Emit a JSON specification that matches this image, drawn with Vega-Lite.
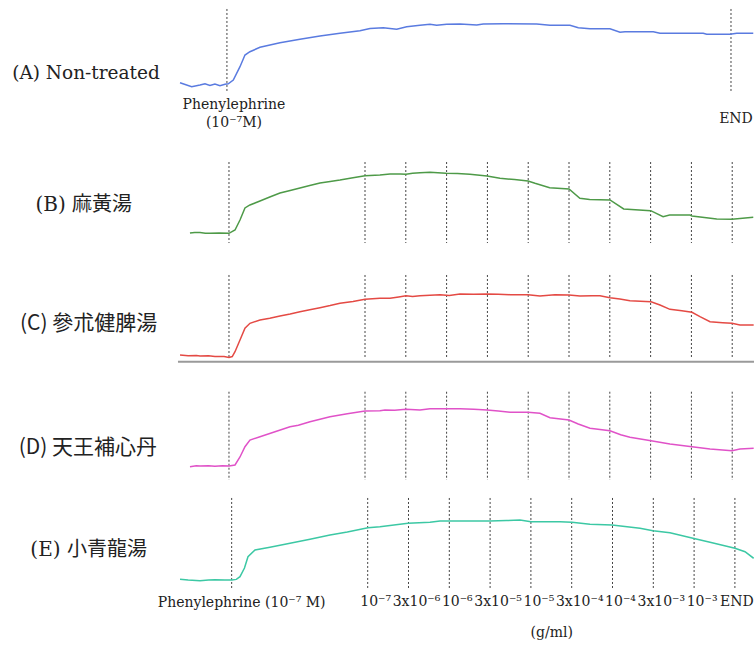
{
  "$schema": "https://vega.github.io/schema/vega-lite/v6.json",
  "padding": 0,
  "spacing": 0,
  "bounds": "flush",
  "background": "white",
  "config": {"view": {"stroke": null}, "concat": {"spacing": 0}},
  "datasets": {
    "traces": [
      {"p":"A","t":-6.0,"v":0.038},{"p":"A","t":-4.57,"v":-0.03},{"p":"A","t":-3.55,"v":0.0},{"p":"A","t":-2.94,"v":0.02},{"p":"A","t":-2.33,"v":-0.008},{"p":"A","t":-1.72,"v":0.015},{"p":"A","t":-1.10,"v":-0.012},{"p":"A","t":-0.49,"v":0.012},{"p":"A","t":-0.09,"v":0.02},{"p":"A","t":0.53,"v":0.083},{"p":"A","t":1.35,"v":0.305},{"p":"A","t":1.96,"v":0.5},{"p":"A","t":2.57,"v":0.555},{"p":"A","t":3.80,"v":0.628},{"p":"A","t":6.25,"v":0.705},{"p":"A","t":8.70,"v":0.762},{"p":"A","t":11.15,"v":0.817},{"p":"A","t":13.60,"v":0.862},{"p":"A","t":16.05,"v":0.905},{"p":"A","t":17.28,"v":0.94},{"p":"A","t":18.91,"v":0.955},{"p":"A","t":20.55,"v":0.928},{"p":"A","t":21.78,"v":0.972},{"p":"A","t":23.41,"v":0.995},{"p":"A","t":24.63,"v":1.012},{"p":"A","t":25.45,"v":0.995},{"p":"A","t":26.68,"v":1.012},{"p":"A","t":28.31,"v":1.017},{"p":"A","t":30.36,"v":1.0},{"p":"A","t":31.16,"v":1.017},{"p":"A","t":33.61,"v":1.022},{"p":"A","t":37.71,"v":1.017},{"p":"A","t":39.34,"v":0.995},{"p":"A","t":41.79,"v":0.995},{"p":"A","t":42.81,"v":0.955},{"p":"A","t":44.24,"v":0.938},{"p":"A","t":46.69,"v":0.938},{"p":"A","t":47.92,"v":0.878},{"p":"A","t":48.53,"v":0.888},{"p":"A","t":52.0,"v":0.888},{"p":"A","t":52.82,"v":0.862},{"p":"A","t":58.12,"v":0.862},{"p":"A","t":58.54,"v":0.845},{"p":"A","t":61.40,"v":0.845},{"p":"A","t":62.22,"v":0.862},{"p":"A","t":64.25,"v":0.862},

      {"p":"B","t":-4.78,"v":0.0},{"p":"B","t":-4.2,"v":0.01},{"p":"B","t":-3.55,"v":0.008},{"p":"B","t":-2.9,"v":-0.003},{"p":"B","t":-2.33,"v":-0.005},{"p":"B","t":-1.2,"v":0.0},{"p":"B","t":0.0,"v":-0.005},{"p":"B","t":0.74,"v":0.05},{"p":"B","t":1.35,"v":0.217},{"p":"B","t":1.96,"v":0.417},{"p":"B","t":2.57,"v":0.467},{"p":"B","t":3.8,"v":0.533},{"p":"B","t":5.0,"v":0.6},{"p":"B","t":6.25,"v":0.667},{"p":"B","t":7.5,"v":0.71},{"p":"B","t":8.7,"v":0.75},{"p":"B","t":9.9,"v":0.79},{"p":"B","t":11.15,"v":0.833},{"p":"B","t":12.4,"v":0.86},{"p":"B","t":13.6,"v":0.883},{"p":"B","t":15.2,"v":0.92},{"p":"B","t":16.67,"v":0.955},{"p":"B","t":18.5,"v":0.967},{"p":"B","t":19.73,"v":0.983},{"p":"B","t":21.0,"v":0.985},{"p":"B","t":21.69,"v":0.978},{"p":"B","t":22.5,"v":0.995},{"p":"B","t":23.41,"v":1.005},{"p":"B","t":24.63,"v":1.012},{"p":"B","t":25.6,"v":1.005},{"p":"B","t":26.59,"v":0.995},{"p":"B","t":28.0,"v":0.99},{"p":"B","t":29.53,"v":0.978},{"p":"B","t":31.62,"v":0.95},{"p":"B","t":33.21,"v":0.912},{"p":"B","t":35.0,"v":0.89},{"p":"B","t":36.64,"v":0.867},{"p":"B","t":37.5,"v":0.828},{"p":"B","t":39.3,"v":0.755},{"p":"B","t":41.67,"v":0.733},{"p":"B","t":43.0,"v":0.578},{"p":"B","t":44.2,"v":0.56},{"p":"B","t":46.69,"v":0.55},{"p":"B","t":48.37,"v":0.4},{"p":"B","t":51.68,"v":0.372},{"p":"B","t":53.2,"v":0.272},{"p":"B","t":54.0,"v":0.3},{"p":"B","t":56.5,"v":0.3},{"p":"B","t":56.74,"v":0.283},{"p":"B","t":59.77,"v":0.233},{"p":"B","t":61.64,"v":0.228},{"p":"B","t":64.25,"v":0.262},

      {"p":"C","t":-6.0,"v":0.017},{"p":"C","t":-5.0,"v":0.005},{"p":"C","t":-4.0,"v":0.01},{"p":"C","t":-3.55,"v":0.0},{"p":"C","t":-2.5,"v":0.003},{"p":"C","t":-1.72,"v":-0.008},{"p":"C","t":-0.6,"v":-0.01},{"p":"C","t":0.0,"v":-0.025},{"p":"C","t":0.4,"v":-0.01},{"p":"C","t":0.74,"v":0.072},{"p":"C","t":1.35,"v":0.267},{"p":"C","t":1.96,"v":0.462},{"p":"C","t":2.57,"v":0.545},{"p":"C","t":3.8,"v":0.6},{"p":"C","t":5.0,"v":0.63},{"p":"C","t":6.25,"v":0.667},{"p":"C","t":7.5,"v":0.7},{"p":"C","t":8.7,"v":0.738},{"p":"C","t":9.9,"v":0.77},{"p":"C","t":11.15,"v":0.805},{"p":"C","t":12.4,"v":0.84},{"p":"C","t":13.6,"v":0.878},{"p":"C","t":15.2,"v":0.91},{"p":"C","t":16.67,"v":0.945},{"p":"C","t":18.5,"v":0.962},{"p":"C","t":19.73,"v":0.962},{"p":"C","t":20.8,"v":0.985},{"p":"C","t":21.69,"v":1.005},{"p":"C","t":22.5,"v":0.99},{"p":"C","t":23.41,"v":1.005},{"p":"C","t":25.86,"v":1.022},{"p":"C","t":27.0,"v":1.01},{"p":"C","t":28.31,"v":1.033},{"p":"C","t":30.0,"v":1.03},{"p":"C","t":31.62,"v":1.033},{"p":"C","t":33.0,"v":1.028},{"p":"C","t":34.44,"v":1.022},{"p":"C","t":36.64,"v":1.022},{"p":"C","t":38.11,"v":1.0},{"p":"C","t":39.95,"v":1.022},{"p":"C","t":41.67,"v":1.017},{"p":"C","t":43.01,"v":1.0},{"p":"C","t":44.5,"v":1.005},{"p":"C","t":45.47,"v":1.005},{"p":"C","t":46.69,"v":0.972},{"p":"C","t":47.9,"v":0.95},{"p":"C","t":49.14,"v":0.922},{"p":"C","t":51.72,"v":0.905},{"p":"C","t":52.82,"v":0.85},{"p":"C","t":54.04,"v":0.778},{"p":"C","t":55.5,"v":0.755},{"p":"C","t":56.74,"v":0.728},{"p":"C","t":57.72,"v":0.655},{"p":"C","t":58.95,"v":0.572},{"p":"C","t":60.5,"v":0.555},{"p":"C","t":61.64,"v":0.545},{"p":"C","t":62.62,"v":0.517},{"p":"C","t":64.3,"v":0.517},

      {"p":"D","t":-4.78,"v":-0.012},{"p":"D","t":-4.0,"v":0.003},{"p":"D","t":-3.55,"v":0.0},{"p":"D","t":-2.5,"v":0.005},{"p":"D","t":-1.72,"v":-0.005},{"p":"D","t":-0.8,"v":0.003},{"p":"D","t":0.0,"v":0.0},{"p":"D","t":0.74,"v":0.017},{"p":"D","t":1.35,"v":0.15},{"p":"D","t":1.96,"v":0.322},{"p":"D","t":2.57,"v":0.433},{"p":"D","t":3.8,"v":0.488},{"p":"D","t":5.64,"v":0.572},{"p":"D","t":7.48,"v":0.655},{"p":"D","t":8.5,"v":0.68},{"p":"D","t":9.93,"v":0.738},{"p":"D","t":12.38,"v":0.822},{"p":"D","t":14.5,"v":0.87},{"p":"D","t":16.67,"v":0.917},{"p":"D","t":18.5,"v":0.922},{"p":"D","t":19.12,"v":0.933},{"p":"D","t":20.3,"v":0.93},{"p":"D","t":21.69,"v":0.945},{"p":"D","t":23.41,"v":0.933},{"p":"D","t":24.63,"v":0.955},{"p":"D","t":26.72,"v":0.955},{"p":"D","t":28.31,"v":0.955},{"p":"D","t":30.0,"v":0.945},{"p":"D","t":31.62,"v":0.933},{"p":"D","t":33.0,"v":0.915},{"p":"D","t":34.44,"v":0.895},{"p":"D","t":36.64,"v":0.895},{"p":"D","t":38.11,"v":0.878},{"p":"D","t":39.34,"v":0.805},{"p":"D","t":41.67,"v":0.767},{"p":"D","t":42.8,"v":0.7},{"p":"D","t":44.24,"v":0.628},{"p":"D","t":46.69,"v":0.588},{"p":"D","t":48.0,"v":0.52},{"p":"D","t":49.14,"v":0.478},{"p":"D","t":51.72,"v":0.422},{"p":"D","t":54.04,"v":0.367},{"p":"D","t":56.74,"v":0.322},{"p":"D","t":58.95,"v":0.283},{"p":"D","t":61.64,"v":0.255},{"p":"D","t":62.62,"v":0.283},{"p":"D","t":64.3,"v":0.295},

      {"p":"E","t":-6.0,"v":0.012},{"p":"E","t":-5.0,"v":0.0},{"p":"E","t":-3.55,"v":-0.012},{"p":"E","t":-2.5,"v":0.0},{"p":"E","t":-1.72,"v":0.005},{"p":"E","t":-0.5,"v":0.0},{"p":"E","t":0.37,"v":0.0},{"p":"E","t":0.9,"v":0.01},{"p":"E","t":1.35,"v":0.055},{"p":"E","t":1.9,"v":0.2},{"p":"E","t":2.33,"v":0.388},{"p":"E","t":3.19,"v":0.5},{"p":"E","t":5.02,"v":0.545},{"p":"E","t":7.48,"v":0.612},{"p":"E","t":9.93,"v":0.678},{"p":"E","t":12.38,"v":0.75},{"p":"E","t":14.5,"v":0.8},{"p":"E","t":17.03,"v":0.872},{"p":"E","t":18.5,"v":0.888},{"p":"E","t":21.94,"v":0.945},{"p":"E","t":24.63,"v":0.962},{"p":"E","t":25.86,"v":0.983},{"p":"E","t":31.99,"v":0.983},{"p":"E","t":34.0,"v":0.99},{"p":"E","t":35.66,"v":1.0},{"p":"E","t":37.01,"v":0.972},{"p":"E","t":40.56,"v":0.972},{"p":"E","t":42.03,"v":0.962},{"p":"E","t":44.24,"v":0.928},{"p":"E","t":46.94,"v":0.917},{"p":"E","t":50.37,"v":0.862},{"p":"E","t":51.96,"v":0.822},{"p":"E","t":54.04,"v":0.788},{"p":"E","t":56.86,"v":0.695},{"p":"E","t":58.95,"v":0.628},{"p":"E","t":62.01,"v":0.528},{"p":"E","t":63.24,"v":0.472},{"p":"E","t":64.3,"v":0.362}
    ],
    "events": [
      {"p":"A","t":-0.25,"label":"Phenylephrine\n(10⁻⁷M)"},{"p":"A","t":61.52,"label":"END"},
      {"p":"B","t":0,"label":""},{"p":"B","t":16.67,"label":""},{"p":"B","t":21.67,"label":""},{"p":"B","t":26.67,"label":""},{"p":"B","t":31.67,"label":""},{"p":"B","t":36.67,"label":""},{"p":"B","t":41.67,"label":""},{"p":"B","t":46.67,"label":""},{"p":"B","t":51.67,"label":""},{"p":"B","t":56.67,"label":""},{"p":"B","t":61.67,"label":""},
      {"p":"C","t":0,"label":""},{"p":"C","t":16.67,"label":""},{"p":"C","t":21.67,"label":""},{"p":"C","t":26.67,"label":""},{"p":"C","t":31.67,"label":""},{"p":"C","t":36.67,"label":""},{"p":"C","t":41.67,"label":""},{"p":"C","t":46.67,"label":""},{"p":"C","t":51.67,"label":""},{"p":"C","t":56.67,"label":""},{"p":"C","t":61.67,"label":""},
      {"p":"D","t":0,"label":""},{"p":"D","t":16.67,"label":""},{"p":"D","t":21.67,"label":""},{"p":"D","t":26.67,"label":""},{"p":"D","t":31.67,"label":""},{"p":"D","t":36.67,"label":""},{"p":"D","t":41.67,"label":""},{"p":"D","t":46.67,"label":""},{"p":"D","t":51.67,"label":""},{"p":"D","t":56.67,"label":""},{"p":"D","t":61.67,"label":""},
      {"p":"E","t":0.33,"label":"Phenylephrine (10⁻⁷ M)"},{"p":"E","t":17.0,"label":"10⁻⁷"},{"p":"E","t":22.0,"label":"3x10⁻⁶"},{"p":"E","t":27.0,"label":"10⁻⁶"},{"p":"E","t":32.0,"label":"3x10⁻⁵"},{"p":"E","t":37.0,"label":"10⁻⁵"},{"p":"E","t":42.0,"label":"3x10⁻⁴"},{"p":"E","t":47.0,"label":"10⁻⁴"},{"p":"E","t":52.0,"label":"3x10⁻³"},{"p":"E","t":57.0,"label":"10⁻³"},{"p":"E","t":62.0,"label":"END"}
    ],
    "titles": [
      {"p":"A","label":"(A) Non-treated"},
      {"p":"B","label":"(B) 麻黃湯"},
      {"p":"C","label":"(C) 參朮健脾湯"},
      {"p":"D","label":"(D) 天王補心丹"},
      {"p":"E","label":"(E) 小青龍湯"}
    ]
  },
  "vconcat": [
    {
      "width": 754, "height": 135,
      "layer": [
        {"data":{"name":"events"},"transform":[{"filter":"datum.p==='A'"}],
         "mark":{"type":"rule","strokeDash":[2,2],"color":"#444444","strokeWidth":1},
         "encoding":{"x":{"field":"t","type":"quantitative","scale":{"domain":[-28.06,64.34],"nice":false,"zero":false},"axis":null},
                     "y":{"datum":1.267,"type":"quantitative","scale":{"domain":[-0.8333,1.4167],"nice":false,"zero":false},"axis":null},
                     "y2":{"datum":-0.133}}},
        {"data":{"name":"traces"},"transform":[{"filter":"datum.p==='A'"}],
         "mark":{"type":"line","color":"#5a7be0","strokeWidth":1.5},
         "encoding":{"x":{"field":"t","type":"quantitative"},"y":{"field":"v","type":"quantitative"}}},
        {"data":{"name":"titles"},"transform":[{"filter":"datum.p==='A'"}],
         "mark":{"type":"text","font":"DejaVu Serif","fontSize":18.5,"align":"center","baseline":"middle","color":"#222222"},
         "encoding":{"text":{"field":"label"},"x":{"datum":-17.52,"type":"quantitative"},"y":{"datum":0.2,"type":"quantitative"}}},
        {"data":{"name":"events"},"transform":[{"filter":"datum.p==='A' && datum.t < 10"}],
         "mark":{"type":"text","font":"DejaVu Serif","fontSize":14,"align":"center","baseline":"middle","lineBreak":"\n","lineHeight":18,"dx":7,"color":"#222222"},
         "encoding":{"text":{"field":"label"},"x":{"field":"t","type":"quantitative"},"y":{"datum":-0.333,"type":"quantitative"}}},
        {"data":{"name":"events"},"transform":[{"filter":"datum.p==='A' && datum.t > 10"}],
         "mark":{"type":"text","font":"DejaVu Serif","fontSize":14,"align":"center","baseline":"middle","dx":5,"color":"#222222"},
         "encoding":{"text":{"field":"label"},"x":{"field":"t","type":"quantitative"},"y":{"datum":-0.567,"type":"quantitative"}}}
      ]
    },
    {
      "width": 754, "height": 120,
      "layer": [
        {"data":{"name":"events"},"transform":[{"filter":"datum.p==='B'"}],
         "mark":{"type":"rule","strokeDash":[2,2],"color":"#444444","strokeWidth":1},
         "encoding":{"x":{"field":"t","type":"quantitative","scale":{"domain":[-28.06,64.34],"nice":false,"zero":false},"axis":null},
                     "y":{"datum":1.183,"type":"quantitative","scale":{"domain":[-0.3667,1.6333],"nice":false,"zero":false},"axis":null},
                     "y2":{"datum":-0.167}}},
        {"data":{"name":"traces"},"transform":[{"filter":"datum.p==='B'"}],
         "mark":{"type":"line","color":"#4e9a48","strokeWidth":1.5},
         "encoding":{"x":{"field":"t","type":"quantitative"},"y":{"field":"v","type":"quantitative"}}},
        {"data":{"name":"titles"},"transform":[{"filter":"datum.p==='B'"}],
         "mark":{"type":"text","font":"'DejaVu Serif', 'Noto Sans CJK KR'","fontSize":20,"align":"center","baseline":"middle","color":"#222222"},
         "encoding":{"text":{"field":"label"},"x":{"datum":-17.8,"type":"quantitative"},"y":{"datum":0.467,"type":"quantitative"}}}
      ]
    },
    {
      "width": 754, "height": 120,
      "layer": [
        {"data":{"name":"events"},"transform":[{"filter":"datum.p==='C'"}],
         "mark":{"type":"rule","strokeDash":[2,2],"color":"#444444","strokeWidth":1},
         "encoding":{"x":{"field":"t","type":"quantitative","scale":{"domain":[-28.06,64.34],"nice":false,"zero":false},"axis":null},
                     "y":{"datum":1.35,"type":"quantitative","scale":{"domain":[-0.3167,1.6833],"nice":false,"zero":false},"axis":null},
                     "y2":{"datum":-0.038}}},
        {"data":{"name":"events"},"transform":[{"filter":"datum.p==='C' && datum.t === 0"}],
         "mark":{"type":"rule","color":"#9a9a9a","strokeWidth":2},
         "encoding":{"x":{"datum":-6.25,"type":"quantitative"},"x2":{"datum":64.34},"y":{"datum":-0.095,"type":"quantitative"}}},
        {"data":{"name":"traces"},"transform":[{"filter":"datum.p==='C'"}],
         "mark":{"type":"line","color":"#e44a44","strokeWidth":1.5},
         "encoding":{"x":{"field":"t","type":"quantitative"},"y":{"field":"v","type":"quantitative"}}},
        {"data":{"name":"titles"},"transform":[{"filter":"datum.p==='C'"}],
         "mark":{"type":"text","font":"Noto Sans CJK KR","fontSize":21,"align":"center","baseline":"middle","color":"#222222"},
         "encoding":{"text":{"field":"label"},"x":{"datum":-17.2,"type":"quantitative"},"y":{"datum":0.54,"type":"quantitative"}}}
      ]
    },
    {
      "width": 754, "height": 115,
      "layer": [
        {"data":{"name":"events"},"transform":[{"filter":"datum.p==='D'"}],
         "mark":{"type":"rule","strokeDash":[2,2],"color":"#444444","strokeWidth":1},
         "encoding":{"x":{"field":"t","type":"quantitative","scale":{"domain":[-28.06,64.34],"nice":false,"zero":false},"axis":null},
                     "y":{"datum":1.238,"type":"quantitative","scale":{"domain":[-0.4,1.5167],"nice":false,"zero":false},"axis":null},
                     "y2":{"datum":-0.233}}},
        {"data":{"name":"traces"},"transform":[{"filter":"datum.p==='D'"}],
         "mark":{"type":"line","color":"#e052c8","strokeWidth":1.5},
         "encoding":{"x":{"field":"t","type":"quantitative"},"y":{"field":"v","type":"quantitative"}}},
        {"data":{"name":"titles"},"transform":[{"filter":"datum.p==='D'"}],
         "mark":{"type":"text","font":"Noto Sans CJK KR","fontSize":21,"align":"center","baseline":"middle","color":"#222222"},
         "encoding":{"text":{"field":"label"},"x":{"datum":-17.3,"type":"quantitative"},"y":{"datum":0.3,"type":"quantitative"}}}
      ]
    },
    {
      "width": 754, "height": 158,
      "layer": [
        {"data":{"name":"events"},"transform":[{"filter":"datum.p==='E'"}],
         "mark":{"type":"rule","strokeDash":[2,2],"color":"#444444","strokeWidth":1},
         "encoding":{"x":{"field":"t","type":"quantitative","scale":{"domain":[-28.06,64.34],"nice":false,"zero":false},"axis":null},
                     "y":{"datum":1.367,"type":"quantitative","scale":{"domain":[-1.1333,1.5],"nice":false,"zero":false},"axis":null},
                     "y2":{"datum":-0.133}}},
        {"data":{"name":"traces"},"transform":[{"filter":"datum.p==='E'"}],
         "mark":{"type":"line","color":"#3cc8a4","strokeWidth":1.5},
         "encoding":{"x":{"field":"t","type":"quantitative"},"y":{"field":"v","type":"quantitative"}}},
        {"data":{"name":"titles"},"transform":[{"filter":"datum.p==='E'"}],
         "mark":{"type":"text","font":"'DejaVu Serif', 'Noto Sans CJK KR'","fontSize":20,"align":"center","baseline":"middle","color":"#222222"},
         "encoding":{"text":{"field":"label"},"x":{"datum":-17.2,"type":"quantitative"},"y":{"datum":0.5,"type":"quantitative"}}},
        {"data":{"name":"events"},"transform":[{"filter":"datum.p==='E' && datum.t < 10"}],
         "mark":{"type":"text","font":"DejaVu Serif","fontSize":14,"align":"center","baseline":"middle","dx":10,"color":"#222222"},
         "encoding":{"text":{"field":"label"},"x":{"field":"t","type":"quantitative"},"y":{"datum":-0.383,"type":"quantitative"}}},
        {"data":{"name":"events"},"transform":[{"filter":"datum.p==='E' && datum.t > 10 && datum.t < 60"}],
         "mark":{"type":"text","font":"DejaVu Serif","fontSize":14,"align":"center","baseline":"middle","dx":8,"color":"#222222"},
         "encoding":{"text":{"field":"label"},"x":{"field":"t","type":"quantitative"},"y":{"datum":-0.37,"type":"quantitative"}}},
        {"data":{"name":"events"},"transform":[{"filter":"datum.p==='E' && datum.t > 60"}],
         "mark":{"type":"text","font":"DejaVu Serif","fontSize":14,"align":"right","baseline":"middle","color":"#222222"},
         "encoding":{"text":{"field":"label"},"x":{"datum":64.3,"type":"quantitative"},"y":{"datum":-0.37,"type":"quantitative"}}},
        {"data":{"name":"titles"},"transform":[{"filter":"datum.p==='E'"}],
         "mark":{"type":"text","font":"DejaVu Serif","fontSize":14,"align":"center","baseline":"middle","color":"#222222"},
         "encoding":{"text":{"value":"(g/ml)"},"x":{"datum":39.55,"type":"quantitative"},"y":{"datum":-0.883,"type":"quantitative"}}}
      ]
    }
  ]
}
